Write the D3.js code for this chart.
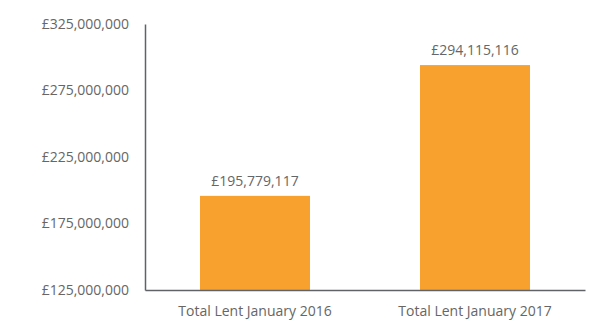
<!DOCTYPE html>
<html>
<head>
<meta charset="utf-8">
<script src="https://cdn.jsdelivr.net/npm/d3@7"></script>
<style>
  body { margin: 0; background: #fff; }
  text { font-family: "Open Sans", sans-serif; }
</style>
</head>
<body>
<div id="chart"></div>
<script>
// Data
const categories = ["Total Lent January 2016", "Total Lent January 2017"];
const values = [195779117, 294115116];
const yTicks = [125000000, 175000000, 225000000, 275000000, 325000000];

const width = 600, height = 330;
const margin = { top: 24, right: 15, bottom: 40, left: 145 };

const svg = d3.select("#chart").append("svg")
    .attr("width", width)
    .attr("height", height);

const x = d3.scaleBand()
    .domain(categories)
    .range([margin.left, width - margin.right])
    .paddingInner(0.5)
    .paddingOuter(0.25);

const y = d3.scaleLinear()
    .domain([125000000, 325000000])
    .range([height - margin.bottom, margin.top]);

const money = v => "£" + d3.format(",")(v);

// Bars
svg.selectAll(".bar")
    .data(values)
    .enter()
    .append("rect")
    .attr("class", "bar")
    .attr("x", (d, i) => x(categories[i]))
    .attr("y", d => y(d))
    .attr("width", x.bandwidth())
    .attr("height", d => y(125000000) - y(d))
    .attr("fill", "#f9a12e");

// Value labels
svg.selectAll(".val")
    .data(values)
    .enter()
    .append("text")
    .attr("x", (d, i) => x(categories[i]) + x.bandwidth() / 2)
    .attr("y", d => y(d) - 10)
    .attr("text-anchor", "middle")
    .attr("fill", "#666")
    .style("font-size", "14px")
    .text(money);

// Y axis
svg.append("g")
    .attr("transform", `translate(${margin.left},0)`)
    .call(d3.axisLeft(y).tickValues(yTicks).tickFormat(money).tickSize(0).tickPadding(16))
    .call(g => {
        g.select(".domain").attr("stroke", "#5f6367").attr("stroke-width", 1.5);
        g.selectAll("text").attr("fill", "#666").style("font-size", "14px")
            .style("font-family", "'Open Sans', sans-serif");
    });

// X axis
svg.append("g")
    .attr("transform", `translate(0,${height - margin.bottom})`)
    .call(d3.axisBottom(x).tickSize(0).tickPadding(16))
    .call(g => {
        g.select(".domain").attr("stroke", "#5f6367").attr("stroke-width", 1.5);
        g.selectAll("text").attr("fill", "#666").style("font-size", "14px")
            .style("font-family", "'Open Sans', sans-serif");
    });
</script>
</body>
</html>
